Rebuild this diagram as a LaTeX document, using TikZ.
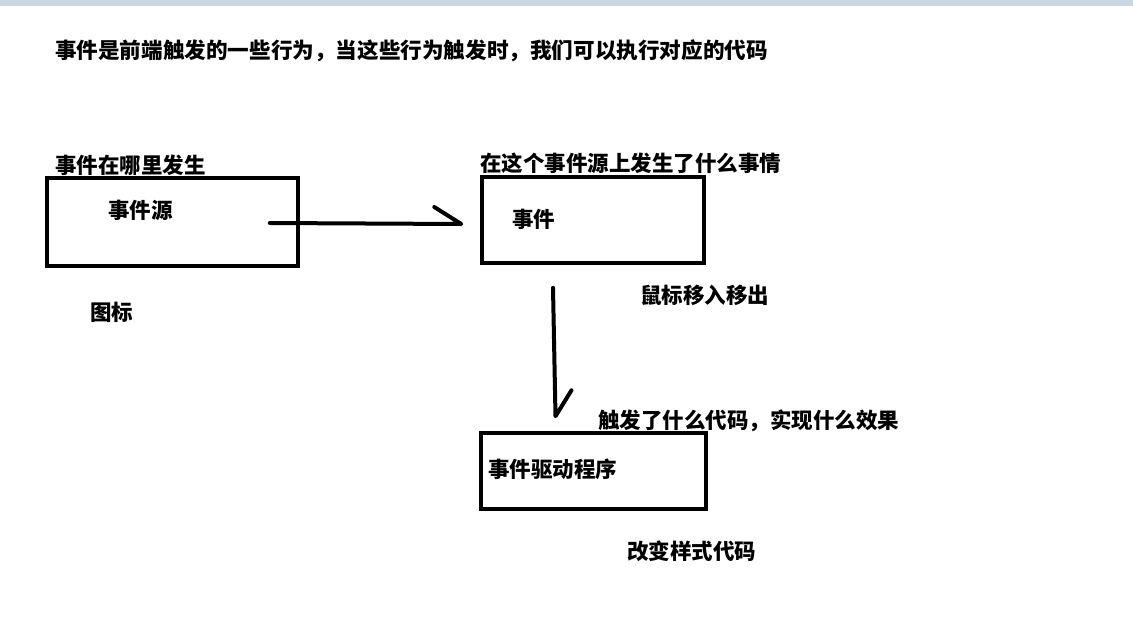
\documentclass[tikz,border=0pt]{standalone}
\usepackage{fontspec}
\newfontfamily\cjk{Noto Sans CJK SC}
\usetikzlibrary{positioning}
\definecolor{barblue}{HTML}{CDD7E3}
\tikzset{
  lbl/.style={anchor=west, inner sep=0pt, font=\cjk\bfseries\fontsize{21.5}{24}\selectfont},
  box/.style={draw=black, line width=3.5pt, rectangle, inner sep=0pt},
  pen/.style={line width=4pt, line cap=round, line join=round}
}
\begin{document}
\begin{tikzpicture}[x=1pt,y=-1pt]
			\useasboundingbox (0,0) rectangle (1133,642);
			\fill[white] (0,0) rectangle (1133,642);
			\fill[barblue] (0,0) rectangle (1133,6);
			% title
			\node[lbl, font=\cjk\bfseries\fontsize{21.6}{25}\selectfont] (title) at (55,51) {事件是前端触发的一些行为，当这些行为触发时，我们可以执行对应的代码};
			% boxes
			\node[box, minimum width=251pt, minimum height=88pt] (src) at (172.5,222) {};
			\node[box, minimum width=222pt, minimum height=86pt] (evt) at (593,220) {};
			\node[box, minimum width=225pt, minimum height=76pt] (drv) at (593.5,471) {};
			% labels
			\node[lbl] (where) at (55,165) {事件在哪里发生};
			\node[lbl] (srclbl) at (108,210) {事件源};
			\node[lbl] (icon) at (90,312) {图标};
			\node[lbl] (what) at (480,163) {在这个事件源上发生了什么事情};
			\node[lbl] (evtlbl) at (512,219) {事件};
			\node[lbl] (mouse) at (640,295) {鼠标移入移出};
			\node[lbl] (trig) at (598,421) {触发了什么代码，实现什么效果};
			\node[lbl] (drvlbl) at (488,469) {事件驱动程序};
			\node[lbl] (style) at (627,551) {改变样式代码};
			% hand drawn arrows
			\coordinate (h1) at ([xshift=-30pt,yshift=-1pt]src.east);
			\coordinate (h2) at ([xshift=-19pt,yshift=-4pt]evt.west);
			\draw[pen] (h1) -- (h2) -- ++(-27,-17);
			\coordinate (v1) at ([xshift=-40pt,yshift=-23pt]evt.south);
			\coordinate (v2) at ([xshift=-38pt,yshift=15pt]drv.north);
			\draw[pen] (v1) -- (v2) -- ++(16,-26);
\end{tikzpicture}
\end{document}
